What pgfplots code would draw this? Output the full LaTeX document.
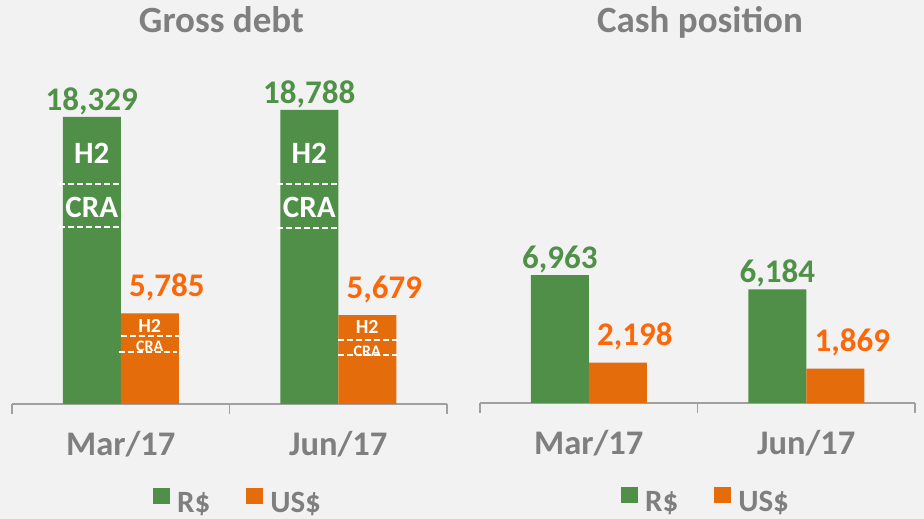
\documentclass[border=0pt]{standalone}
\usepackage{pgfplots}
\pgfplotsset{compat=1.18}
\usepackage{fontspec}
\setmainfont{Carlito}

\definecolor{bg}{HTML}{F2F2F2}
\definecolor{bargreen}{RGB}{79,143,72}
\definecolor{barorange}{RGB}{228,108,10}
\definecolor{lblgreen}{RGB}{80,145,72}
\definecolor{lblorange}{RGB}{250,104,10}
\definecolor{txtgray}{HTML}{7F7F7F}
\definecolor{axgray}{HTML}{A0A0A0}

\newcommand{\fs}[1]{\fontsize{#1bp}{#1bp}\selectfont\bfseries}

\tikzset{dl/.style={draw=white, line width=1.3bp, dash pattern=on 6bp off 3bp}}

\pgfplotsset{
  panel/.style={
    scale only axis, width=435bp,
    clip=false,
    axis x line*=bottom, axis y line=none,
    x axis line style={draw=axgray, line width=1.3bp},
    xmin=-0.5, xmax=1.5, ymin=0,
    ytick=\empty,
    xtick={-0.5,0.5,1.5}, xticklabels={},
    major tick length=10bp, tick align=outside,
    tick style={draw=axgray, line width=1.3bp},
    extra x ticks={0,1}, extra x tick labels={Mar/17,Jun/17},
    extra x tick style={major tick length=0pt, tick style={draw=none}},
    xticklabel style={font=\fs{34.5}, text=txtgray, anchor=base, yshift=-52bp},
    ybar=0pt, bar width=58bp,
    /pgf/number format/.cd, 1000 sep={,}, assume math mode=true, /pgfplots/.cd,
    legend columns=2,
    legend style={draw=none, fill=none, inner sep=0pt, font=\fs{31}, text=txtgray,
      nodes={inner sep=0pt},
      /tikz/every odd column/.append style={column sep=7bp},
      /tikz/every even column/.append style={column sep=36bp}},
  },
  sq/.style={legend image code/.code={\fill[##1] (0bp,0bp) rectangle (17bp,16bp);}},
  grn/.style={fill=bargreen, draw=none, sq, nodes near coords,
    every node near coord/.append style={font=\fs{33}, text=lblgreen, inner sep=2bp}},
  org/.style={fill=barorange, draw=none, sq, nodes near coords,
    every node near coord/.append style={font=\fs{33}, text=lblorange, inner sep=2bp,
      xshift=17bp, yshift=10bp}},
}

\begin{document}
\begin{tikzpicture}[x=1bp,y=1bp]
\fill[bg] (0,0) rectangle (924,519);
\path[use as bounding box] (0,0) rectangle (924,519);

\node[font=\fs{37}, text=txtgray, anchor=base] at (221.5,486) {Gross debt};
\node[font=\fs{37}, text=txtgray, anchor=base] at (700,486) {Cash position};

% Gross debt
\begin{axis}[panel, at={(12bp,115bp)}, anchor=south west,
  height=313.2bp, ymax=20000,
  legend style={at={(0.324,-0.3097)}, anchor=west}]
\addplot[grn] coordinates {(0,18329) (1,18788)};
\addplot[org] coordinates {(0,5785) (1,5679)};
\legend{R\$,US\$}
% green bars: H2 / CRA split
\draw[dl] (axis cs:-0.285,14049) -- (axis cs:0,14049);
\draw[dl] (axis cs:-0.285,11303) -- (axis cs:0,11303);
\draw[dl] (axis cs:0.72,14049) -- (axis cs:1,14049);
\draw[dl] (axis cs:0.72,11239) -- (axis cs:1,11239);
\node[font=\fs{31}, text=white] at (axis cs:-0.1333,16028) {H2};
\node[font=\fs{31}, text=white] at (axis cs:-0.1333,12548) {CRA};
\node[font=\fs{31}, text=white] at (axis cs:0.8667,16028) {H2};
\node[font=\fs{31}, text=white] at (axis cs:0.8667,12580) {CRA};
% orange bars
\draw[dl] (axis cs:0,4342) -- (axis cs:0.27,4342);
\draw[dl] (axis cs:-0.01,3321) -- (axis cs:0.26,3321);
\draw[dl] (axis cs:1,4087) -- (axis cs:1.27,4087);
\draw[dl] (axis cs:1,3129) -- (axis cs:1.27,3129);
\node[font=\fs{20}, text=white] at (axis cs:0.1333,5013) {H2};
\node[font=\fs{16}, text=white] at (axis cs:0.1333,3704) {CRA};
\node[font=\fs{20}, text=white] at (axis cs:1.1333,4917) {H2};
\node[font=\fs{16}, text=white] at (axis cs:1.1333,3384) {CRA};
\end{axis}

% Cash position
\begin{axis}[panel, at={(480bp,116bp)}, anchor=south west,
  height=183.8bp, ymax=10000,
  legend style={at={(0.324,-0.5277)}, anchor=west}]
\addplot[grn] coordinates {(0,6963) (1,6184)};
\addplot[org] coordinates {(0,2198) (1,1869)};
\legend{R\$,US\$}
\end{axis}
\end{tikzpicture}
\end{document}
